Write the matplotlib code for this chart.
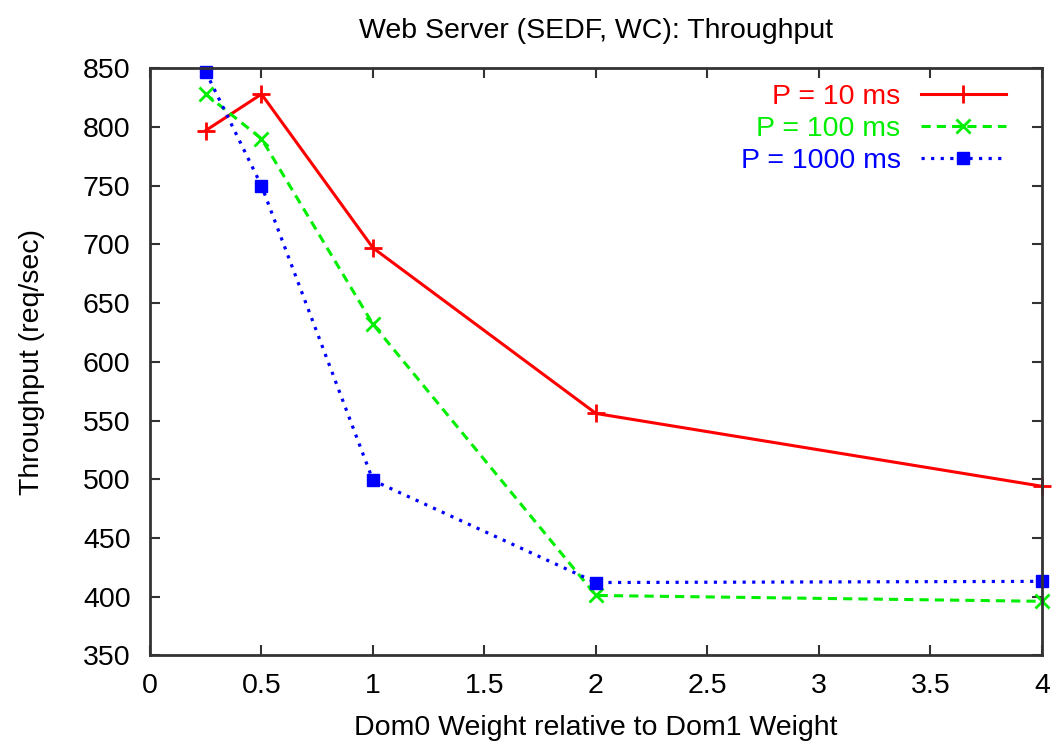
import numpy as np
import matplotlib.pyplot as plt

plt.rcParams['font.family'] = ['Liberation Sans', 'DejaVu Sans']

# Dom0 weight relative to Dom1 weight
weights = [0.25, 0.5, 1, 2, 4]

# throughput (req/sec) for each period
p10 = [797, 828, 697, 556, 494]
p100 = [828, 790, 632, 401, 396]
p1000 = [847, 750, 499, 412, 413]

x_ticks = [0, 0.5, 1, 1.5, 2, 2.5, 3, 3.5, 4]
x_labels = ["0", "0.5", "1", "1.5", "2", "2.5", "3", "3.5", "4"]
y_ticks = [350, 400, 450, 500, 550, 600, 650, 700, 750, 800, 850]

fs = 20.5

fig = plt.figure(figsize=(10.57, 7.48), dpi=100)
ax = fig.add_axes([0.1419, 0.1239, 0.8439, 0.7848])

ax.plot(weights, p10, color="#ff0000", linestyle="-", linewidth=2.2,
        marker="+", markersize=13, markeredgewidth=2, label="P = 10 ms",
        clip_on=False)
ax.plot(weights, p100, color="#00ee00", linestyle=(0, (3, 2)), linewidth=2.2,
        marker="x", markersize=10, markeredgewidth=2, label="P = 100 ms",
        clip_on=False)
ax.plot(weights, p1000, color="#0000ff", linestyle=(0, (1, 2)), linewidth=2.3,
        marker="s", markersize=9, label="P = 1000 ms", clip_on=False)

ax.set_xlim(0, 4)
ax.set_ylim(350, 850)
ax.set_xticks(x_ticks)
ax.set_xticklabels(x_labels)
ax.set_yticks(y_ticks)
ax.tick_params(direction="in", length=7, width=1.5, top=True, right=True,
               labelsize=fs, color="#333333")
ax.tick_params(axis="x", pad=13)
ax.tick_params(axis="y", pad=14)
for sp in ax.spines.values():
    sp.set_linewidth(2)
    sp.set_color("#333333")

ax.set_title("Web Server (SEDF, WC): Throughput", fontsize=fs, pad=22)
ax.set_xlabel("Dom0 Weight relative to Dom1 Weight", fontsize=fs, labelpad=11)
ax.set_ylabel("Throughput (req/sec)", fontsize=fs, labelpad=27)

leg = ax.legend(loc="upper right", bbox_to_anchor=(0.9596, 0.973),
                markerfirst=False, frameon=False, labelcolor="linecolor",
                fontsize=fs, handlelength=3.0, labelspacing=0.2,
                borderaxespad=0, borderpad=0, handletextpad=0.7)

fig.savefig("out.png", dpi=100)
